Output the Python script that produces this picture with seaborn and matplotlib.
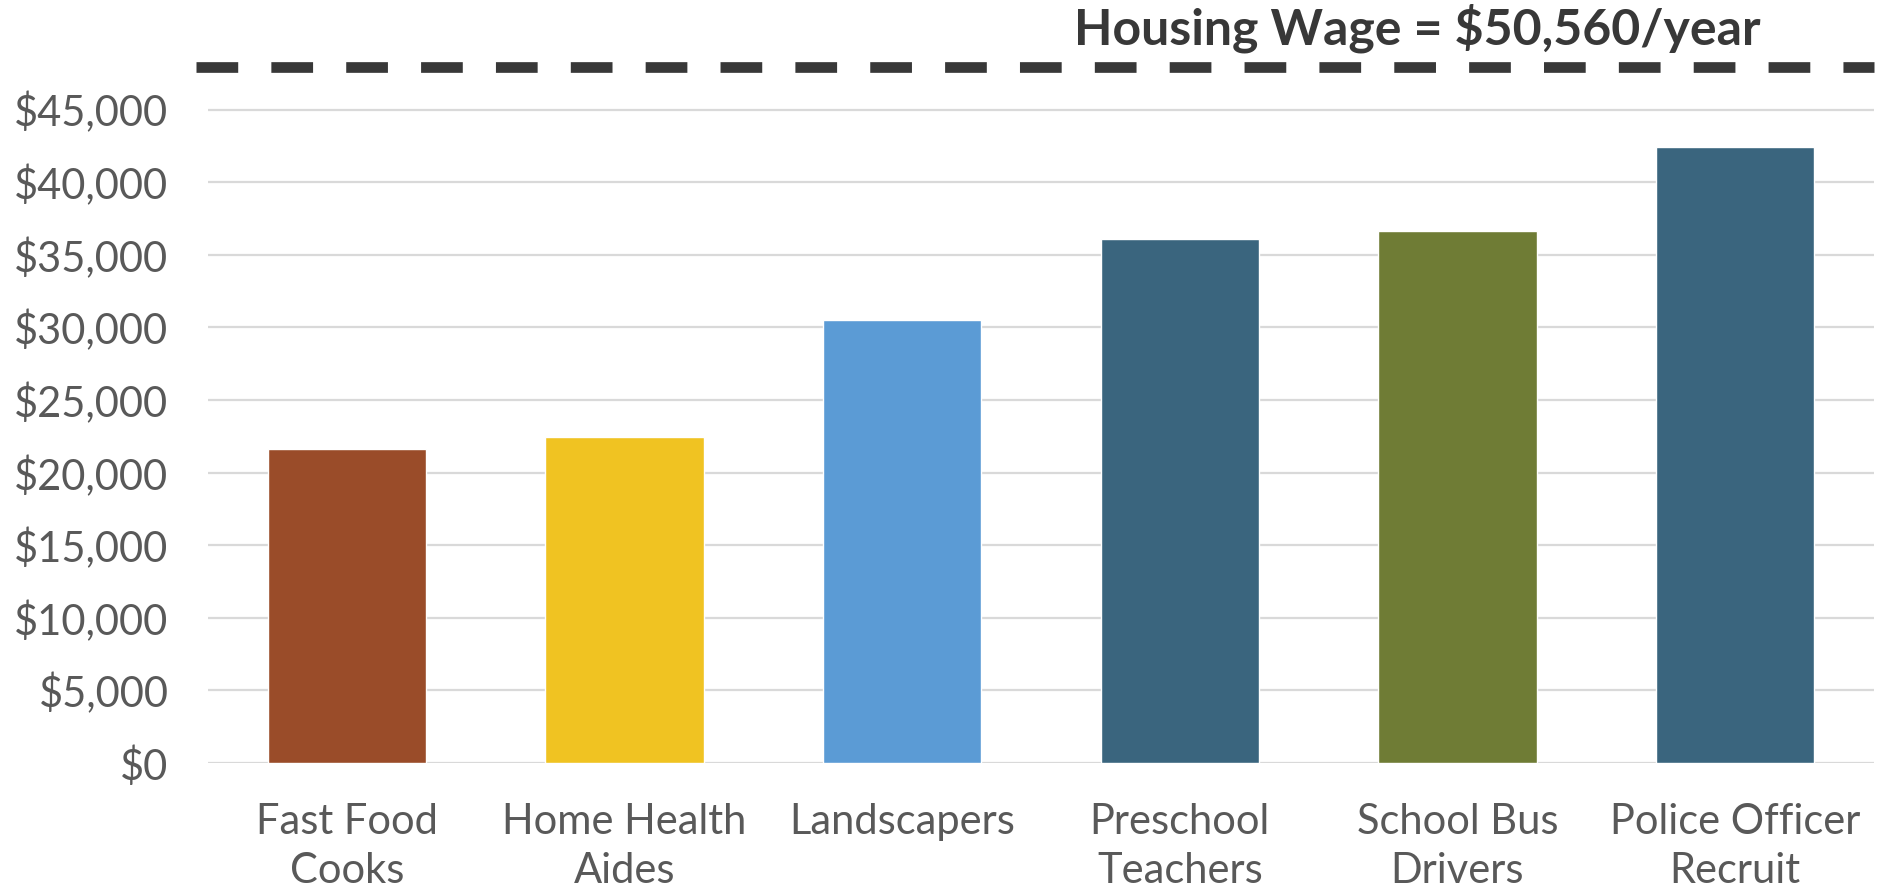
import matplotlib
matplotlib.use("Agg")
import matplotlib.pyplot as plt
import seaborn as sns
import pandas as pd
from matplotlib.ticker import FuncFormatter

categories = ["Fast Food\nCooks", "Home Health\nAides", "Landscapers",
              "Preschool\nTeachers", "School Bus\nDrivers", "Police Officer\nRecruit"]
wages = [21630, 22450, 30500, 36080, 36630, 42400]
bar_colors = ["#9A4C29", "#F0C322", "#5B9BD5", "#3A657E", "#6F7C35", "#3A657E"]
yticks = [0, 5000, 10000, 15000, 20000, 25000, 30000, 35000, 40000, 45000]
housing_label = "Housing Wage = $50,560/year"
housing_line_level = 47900

sns.set_theme(style="white")
plt.rcParams['font.family'] = ['Lato', 'DejaVu Sans']

df = pd.DataFrame({"job": categories, "wage": wages})

fig = plt.figure(figsize=(18.93, 8.89), dpi=100)
ax = fig.add_axes([0.1099, 0.1417, 0.880, 0.7841])

sns.barplot(data=df, x="job", y="wage", hue="job", palette=bar_colors,
            width=0.57, legend=False, ax=ax, saturation=1)

ax.set_ylim(0, 48000)
ax.set_xlim(-0.5, 5.5)
ax.set_yticks(yticks)
ax.yaxis.set_major_formatter(FuncFormatter(lambda v, p: f"${int(v):,}"))
ax.grid(axis="y", color="#D9D9D9", linewidth=1.6)
ax.set_axisbelow(True)
for s in ax.spines.values():
    s.set_visible(False)
ax.set_xlabel("")
ax.set_ylabel("")
ax.tick_params(axis="y", length=0, pad=28.5, labelsize=30, labelcolor="#595959")
ax.tick_params(axis="x", length=0, pad=29, labelsize=30, labelcolor="#595959")
for lbl in ax.get_xticklabels():
    lbl.set_linespacing(1.36)

ax.axhline(housing_line_level, xmin=-0.007, xmax=1.0, color="#383838",
           linewidth=7.7, linestyle=(0, (3.9, 3.1)), clip_on=False,
           solid_capstyle="butt", dash_capstyle="butt")

fig.text(0.7485, 0.968, housing_label, ha="center", va="center",
         fontsize=36, fontweight="bold", color="#383838")

fig.savefig("out.png", dpi=100)
